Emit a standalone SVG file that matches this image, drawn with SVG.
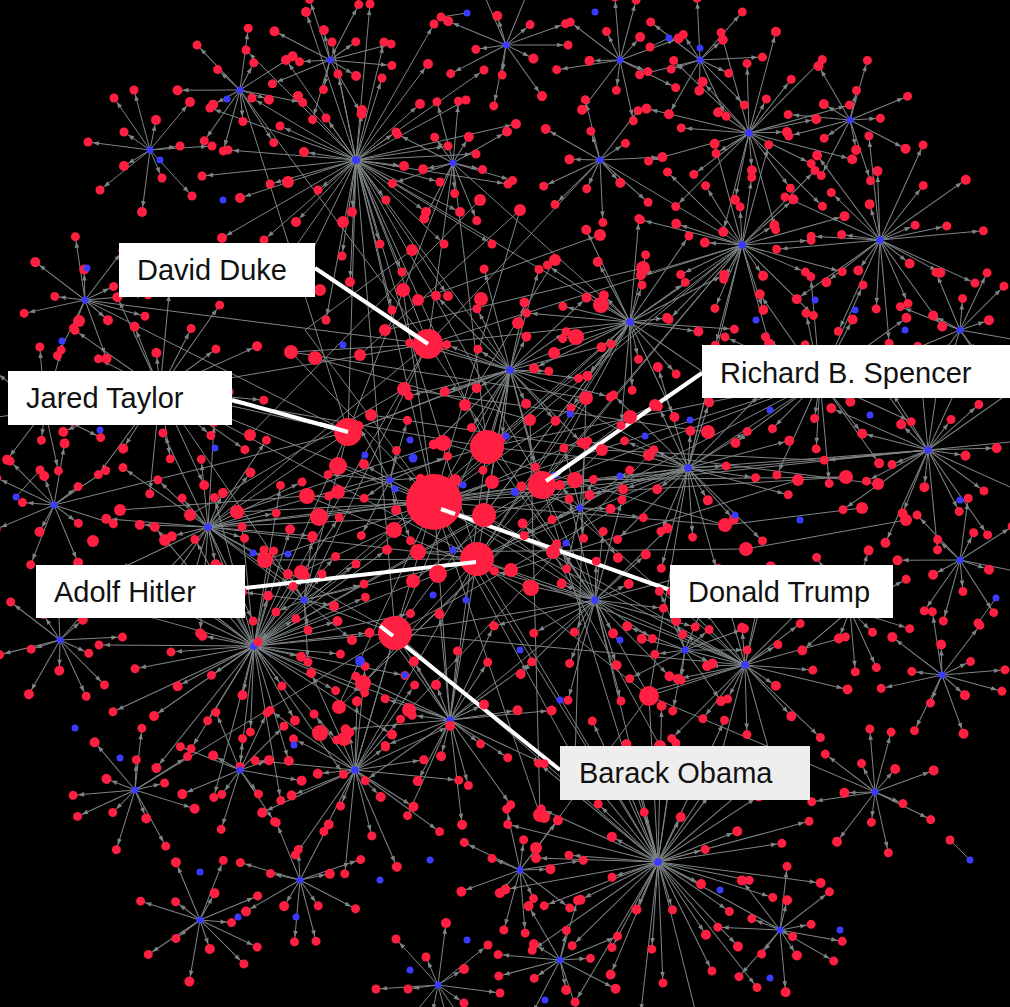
<svg xmlns="http://www.w3.org/2000/svg" width="1010" height="1007" viewBox="0 0 1010 1007">
<style>
.r{fill:#ff1f40}
.b{fill:#3b3bff}
.e{fill:none;stroke:#7f8485;stroke-width:1}
.e line{marker-end:url(#ah)}
.lead{stroke:#ffffff;stroke-width:4;fill:none}
.lbl{font-family:"Liberation Sans",Arial,sans-serif;font-size:29px;fill:#111}
</style>
<defs>
<!-- arrowhead stops short of a leaf of radius ~5 -->
<marker id="ah" markerUnits="userSpaceOnUse" markerWidth="20" markerHeight="20" orient="auto" overflow="visible">
<path d="M-11 -2.3L-5 0L-11 2.3z" fill="#7f8485"/>
</marker>
<!-- star cluster edges: hub at origin -->
<g id="SL" class="e">
<line x2="48" y2="6"/><line x2="30" y2="40"/><line x2="-4" y2="52"/><line x2="-38" y2="30"/><line x2="-52" y2="-8"/><line x2="-30" y2="-42"/><line x2="6" y2="-50"/><line x2="40" y2="-28"/>
<line x2="84" y2="22"/><line x2="70" y2="52"/><line x2="24" y2="84"/><line x2="-14" y2="96"/><line x2="-60" y2="62"/><line x2="-86" y2="24"/><line x2="-76" y2="-34"/><line x2="-58" y2="-64"/><line x2="-18" y2="-86"/><line x2="26" y2="-82"/><line x2="64" y2="-56"/><line x2="92" y2="-14"/>
<line x2="120" y2="-6"/><line x2="104" y2="52"/><line x2="88" y2="84"/><line x2="46" y2="112"/><line x2="-6" y2="122"/><line x2="-52" y2="108"/><line x2="-92" y2="80"/><line x2="-116" y2="38"/><line x2="-128" y2="-10"/><line x2="-104" y2="-62"/><line x2="-70" y2="-100"/><line x2="-24" y2="-118"/><line x2="28" y2="-118"/><line x2="72" y2="-96"/><line x2="110" y2="-60"/>
<line x2="152" y2="24"/><line x2="136" y2="84"/><line x2="92" y2="136"/><line x2="36" y2="150"/><line x2="-30" y2="160"/><line x2="-88" y2="126"/><line x2="-134" y2="78"/><line x2="-154" y2="16"/><line x2="-146" y2="-52"/><line x2="-110" y2="-110"/><line x2="-50" y2="-148"/><line x2="14" y2="-156"/><line x2="78" y2="-136"/><line x2="128" y2="-90"/><line x2="160" y2="-36"/>
</g>
<g id="ML" class="e">
<line x2="36" y2="10"/><line x2="8" y2="38"/><line x2="-30" y2="22"/><line x2="-26" y2="-28"/><line x2="12" y2="-36"/>
<line x2="66" y2="-20"/><line x2="58" y2="36"/><line x2="20" y2="66"/><line x2="-28" y2="62"/><line x2="-64" y2="26"/><line x2="-66" y2="-22"/><line x2="-36" y2="-58"/><line x2="10" y2="-68"/><line x2="50" y2="-48"/>
<line x2="100" y2="8"/><line x2="84" y2="58"/><line x2="44" y2="94"/><line x2="-8" y2="104"/><line x2="-58" y2="88"/><line x2="-94" y2="46"/><line x2="-104" y2="-8"/><line x2="-86" y2="-60"/><line x2="-44" y2="-94"/><line x2="8" y2="-104"/><line x2="60" y2="-88"/><line x2="94" y2="-44"/>
</g>
<g id="TL" class="e">
<line x2="30" y2="6"/><line x2="4" y2="30"/><line x2="-28" y2="12"/><line x2="-16" y2="-26"/><line x2="18" y2="-26"/><line x2="60" y2="-16"/><line x2="48" y2="40"/><line x2="4" y2="62"/><line x2="-46" y2="42"/><line x2="-62" y2="-8"/><line x2="-40" y2="-50"/><line x2="8" y2="-62"/><line x2="52" y2="-36"/>
</g>
<!-- star cluster nodes -->
<g id="SN"><g class="r">
<circle cx="48" cy="6" r="5"/><circle cx="30" cy="40" r="4.5"/><circle cx="-4" cy="52" r="5"/><circle cx="-38" cy="30" r="4.5"/><circle cx="-52" cy="-8" r="5"/><circle cx="-30" cy="-42" r="4.5"/><circle cx="6" cy="-50" r="5"/><circle cx="40" cy="-28" r="4.5"/>
<circle cx="84" cy="22" r="4.5"/><circle cx="70" cy="52" r="5"/><circle cx="24" cy="84" r="4.5"/><circle cx="-14" cy="96" r="4.5"/><circle cx="-60" cy="62" r="5"/><circle cx="-86" cy="24" r="4.5"/><circle cx="-76" cy="-34" r="4.5"/><circle cx="-58" cy="-64" r="5"/><circle cx="-18" cy="-86" r="4.5"/><circle cx="26" cy="-82" r="4.5"/><circle cx="64" cy="-56" r="5"/><circle cx="92" cy="-14" r="4.5"/>
<circle cx="120" cy="-6" r="4.5"/><circle cx="104" cy="52" r="5"/><circle cx="88" cy="84" r="4.5"/><circle cx="46" cy="112" r="4.5"/><circle cx="-6" cy="122" r="5"/><circle cx="-52" cy="108" r="4.5"/><circle cx="-92" cy="80" r="4.5"/><circle cx="-116" cy="38" r="5"/><circle cx="-128" cy="-10" r="4.5"/><circle cx="-104" cy="-62" r="4.5"/><circle cx="-70" cy="-100" r="5"/><circle cx="-24" cy="-118" r="4.5"/><circle cx="28" cy="-118" r="4.5"/><circle cx="72" cy="-96" r="5"/><circle cx="110" cy="-60" r="4.5"/>
<circle cx="152" cy="24" r="4.5"/><circle cx="136" cy="84" r="4.5"/><circle cx="92" cy="136" r="5"/><circle cx="36" cy="150" r="4.5"/><circle cx="-30" cy="160" r="4.5"/><circle cx="-88" cy="126" r="4.5"/><circle cx="-134" cy="78" r="5"/><circle cx="-154" cy="16" r="4.5"/><circle cx="-146" cy="-52" r="4.5"/><circle cx="-110" cy="-110" r="4.5"/><circle cx="-50" cy="-148" r="5"/><circle cx="14" cy="-156" r="4.5"/><circle cx="78" cy="-136" r="4.5"/><circle cx="128" cy="-90" r="4.5"/><circle cx="160" cy="-36" r="5"/>
</g><circle class="b" r="4"/></g>
<g id="MN"><g class="r">
<circle cx="36" cy="10" r="5"/><circle cx="8" cy="38" r="4.5"/><circle cx="-30" cy="22" r="5"/><circle cx="-26" cy="-28" r="4.5"/><circle cx="12" cy="-36" r="5"/>
<circle cx="66" cy="-20" r="4.5"/><circle cx="58" cy="36" r="5"/><circle cx="20" cy="66" r="4.5"/><circle cx="-28" cy="62" r="4.5"/><circle cx="-64" cy="26" r="5"/><circle cx="-66" cy="-22" r="4.5"/><circle cx="-36" cy="-58" r="4.5"/><circle cx="10" cy="-68" r="5"/><circle cx="50" cy="-48" r="4.5"/>
<circle cx="100" cy="8" r="4.5"/><circle cx="84" cy="58" r="5"/><circle cx="44" cy="94" r="4.5"/><circle cx="-8" cy="104" r="4.5"/><circle cx="-58" cy="88" r="5"/><circle cx="-94" cy="46" r="4.5"/><circle cx="-104" cy="-8" r="4.5"/><circle cx="-86" cy="-60" r="5"/><circle cx="-44" cy="-94" r="4.5"/><circle cx="8" cy="-104" r="4.5"/><circle cx="60" cy="-88" r="5"/><circle cx="94" cy="-44" r="4.5"/>
</g><circle class="b" r="3.8"/></g>
<g id="TN"><g class="r">
<circle cx="30" cy="6" r="5"/><circle cx="4" cy="30" r="4.5"/><circle cx="-28" cy="12" r="4.5"/><circle cx="-16" cy="-26" r="5"/><circle cx="18" cy="-26" r="4.5"/><circle cx="60" cy="-16" r="4.5"/><circle cx="48" cy="40" r="5"/><circle cx="4" cy="62" r="4.5"/><circle cx="-46" cy="42" r="4.5"/><circle cx="-62" cy="-8" r="5"/><circle cx="-40" cy="-50" r="4.5"/><circle cx="8" cy="-62" r="4.5"/><circle cx="52" cy="-36" r="4.5"/>
</g><circle class="b" r="3.5"/></g>
</defs>
<rect width="1010" height="1007" fill="#000"/>

<g id="connectors">
<use href="#SL" transform="translate(356 160)"/>
<use href="#SL" transform="translate(658 862) rotate(20)"/>
<use href="#SL" transform="translate(254 646) rotate(200) scale(-1 1)"/>
<use href="#ML" transform="translate(742 245) rotate(40)"/>
<use href="#ML" transform="translate(749 133) rotate(70)"/>
<use href="#ML" transform="translate(880 240) rotate(110)"/>
<use href="#TL" transform="translate(506 45) rotate(15)"/>
<use href="#ML" transform="translate(208 527) rotate(150)"/>
<use href="#ML" transform="translate(745 665) rotate(250)"/>
<use href="#TL" transform="translate(875 792) rotate(300)"/>
<use href="#TL" transform="translate(942 675) rotate(30)"/>
<use href="#ML" transform="translate(928 450) rotate(80)"/>
<use href="#ML" transform="translate(688 468) rotate(130)"/>
<use href="#ML" transform="translate(595 600) rotate(170) scale(-1 1)"/>
<use href="#ML" transform="translate(630 322) rotate(210)"/>
<use href="#ML" transform="translate(510 370) rotate(260) scale(-1 1)"/>
<use href="#TL" transform="translate(304 600)"/>
<use href="#ML" transform="translate(450 720) rotate(320)"/>
<use href="#ML" transform="translate(355 770) rotate(10) scale(-1 1)"/>
<use href="#TL" transform="translate(200 920) rotate(60)"/>
<use href="#TL" transform="translate(438 985) rotate(90)"/>
<use href="#TL" transform="translate(520 870) rotate(120)"/>
<use href="#TL" transform="translate(960 560) rotate(140)"/>
<use href="#TL" transform="translate(135 790) rotate(190)"/>
<use href="#TL" transform="translate(54 505) rotate(240)"/>
<use href="#TL" transform="translate(85 300) rotate(30)"/>
<use href="#ML" transform="translate(160 390) rotate(100) scale(-1 1)"/>
<use href="#TL" transform="translate(240 90) rotate(140)"/>
<use href="#TL" transform="translate(620 60) rotate(300)"/>
<use href="#TL" transform="translate(850 120) rotate(200)"/>
<use href="#TL" transform="translate(960 330) rotate(330)"/>
<use href="#ML" transform="translate(820 380) rotate(20)"/>
<use href="#TL" transform="translate(60 640) rotate(80)"/>
<use href="#TL" transform="translate(150 150) rotate(270)"/>
<use href="#TL" transform="translate(780 930) rotate(45)"/>
<use href="#TL" transform="translate(300 880) rotate(110)"/>
<use href="#TL" transform="translate(600 160) rotate(170)"/>
<use href="#TL" transform="translate(453 163) rotate(290)"/>
<use href="#TL" transform="translate(560 960) rotate(200)"/>
<use href="#TL" transform="translate(850 610) rotate(100)"/>
<use href="#TL" transform="translate(580 508) rotate(60) scale(-1 1)"/>
<use href="#TL" transform="translate(390 480) rotate(200)"/>
<use href="#TL" transform="translate(685 650) rotate(15)"/>
<use href="#TL" transform="translate(45 410) rotate(300)"/>
<use href="#TL" transform="translate(700 60) rotate(80)"/>
<use href="#TL" transform="translate(330 60) rotate(20)"/>
<use href="#TL" transform="translate(240 770) rotate(330)"/>
<!-- long links through the core -->
<path class="e" d="M434 502L356 160M434 502L510 370M434 502L630 322M434 502L688 468M434 502L595 600M434 502L208 527M434 502L254 646M434 502L450 720M434 502L355 770M434 502L742 245M434 502L745 665M434 502L403 290M434 502L291 352M434 502L586 398M434 502L725 525M434 502L553 552M434 502L307 496M434 502L237 512M434 502L338 707M434 502L575 760M434 502L820 380M434 502L305 330M434 502L520 210M434 502L658 862M434 502L160 390M434 502L928 450M434 502L540 815M434 502L846 477
M477 559L356 160M477 559L510 370M477 559L630 322M477 559L254 646M477 559L208 527M477 559L595 600M477 559L688 468M477 559L745 665M477 559L450 720M477 559L355 770M477 559L304 600M477 559L363 683M477 559L265 560M477 559L649 696M477 559L586 398M477 559L742 245M477 559L658 862M477 559L820 380M477 559L160 390
M395 633L254 646M395 633L208 527M395 633L355 770M395 633L450 720M395 633L510 370M395 633L595 600M395 633L688 468M395 633L630 322M395 633L356 160M395 633L304 600M395 633L658 862M395 633L745 665M395 633L135 790
M428 344L356 160M428 344L510 370M428 344L630 322M428 344L453 163M428 344L208 527M428 344L160 390M428 344L742 245M428 344L304 600M428 344L254 646M428 344L291 352M428 344L600 160M428 344L240 90M428 344L85 300M428 344L595 600
M348 432L356 160M348 432L208 527M348 432L160 390M348 432L254 646M348 432L510 370M348 432L630 322M348 432L304 600M348 432L453 163M348 432L240 90M348 432L85 300M348 432L54 505
M542 485L630 322M542 485L688 468M542 485L510 370M542 485L742 245M542 485L820 380M542 485L595 600M542 485L745 665M542 485L928 450M542 485L254 646M542 485L208 527M542 485L356 160M542 485L658 862
M487 447L356 160M487 447L630 322M487 447L688 468M487 447L510 370M487 447L742 245M487 447L208 527M487 447L254 646M487 447L595 600M487 447L450 720M487 447L820 380M487 447L160 390M487 447L453 163
M484 515L688 468M484 515L595 600M484 515L630 322M484 515L254 646M484 515L208 527M484 515L510 370M484 515L745 665
M649 696L745 665M649 696L595 600M649 696L658 862M649 696L688 468M649 696L875 792M649 696L520 870
M291 352L586 398M315 358L530 420M371 415L602 450M404 389L708 432M443 443L725 525M338 466L553 552M307 496L531 588M319 517L575 480M265 560L492 482M301 572L655 405M418 552L746 549M413 581L630 417M511 570L798 480M363 683L575 480M339 707L602 450M409 710L649 455M540 815L530 420M575 760L586 398M660 746L553 552M237 512L443 443M190 515L404 389M120 510L307 496M555 260L465 405M600 235L418 300M643 268L385 330M520 210L360 355M480 200L250 435M412 250L305 330M815 460L602 450M862 508L725 525M906 520L746 549M878 484L649 455M846 477L575 480
M356 160L510 370M356 160L630 322M742 245L630 322M742 245L688 468M820 380L688 468M928 450L688 468M745 665L595 600M658 862L595 600M450 720L595 600M254 646L450 720M208 527L304 600M160 390L304 600M510 370L688 468M630 322L453 163M742 245L600 160
M441 17L467 13M650 47L669 38M996 598L978 623M16 497L40 470M970 860L950 840"/>
<!-- leader lines -->
<path class="lead" d="M315 268L428 344M232 400L348 432M702 373L546 481M245 588L476 562M670 590L441 509M560 770L393 636"/>
</g>

<g id="nodes">
<use href="#SN" transform="translate(356 160)"/>
<use href="#SN" transform="translate(658 862) rotate(20)"/>
<use href="#SN" transform="translate(254 646) rotate(200) scale(-1 1)"/>
<use href="#MN" transform="translate(742 245) rotate(40)"/>
<use href="#MN" transform="translate(749 133) rotate(70)"/>
<use href="#MN" transform="translate(880 240) rotate(110)"/>
<use href="#TN" transform="translate(506 45) rotate(15)"/>
<use href="#MN" transform="translate(208 527) rotate(150)"/>
<use href="#MN" transform="translate(745 665) rotate(250)"/>
<use href="#TN" transform="translate(875 792) rotate(300)"/>
<use href="#TN" transform="translate(942 675) rotate(30)"/>
<use href="#MN" transform="translate(928 450) rotate(80)"/>
<use href="#MN" transform="translate(688 468) rotate(130)"/>
<use href="#MN" transform="translate(595 600) rotate(170) scale(-1 1)"/>
<use href="#MN" transform="translate(630 322) rotate(210)"/>
<use href="#MN" transform="translate(510 370) rotate(260) scale(-1 1)"/>
<use href="#TN" transform="translate(304 600)"/>
<use href="#MN" transform="translate(450 720) rotate(320)"/>
<use href="#MN" transform="translate(355 770) rotate(10) scale(-1 1)"/>
<use href="#TN" transform="translate(200 920) rotate(60)"/>
<use href="#TN" transform="translate(438 985) rotate(90)"/>
<use href="#TN" transform="translate(520 870) rotate(120)"/>
<use href="#TN" transform="translate(960 560) rotate(140)"/>
<use href="#TN" transform="translate(135 790) rotate(190)"/>
<use href="#TN" transform="translate(54 505) rotate(240)"/>
<use href="#TN" transform="translate(85 300) rotate(30)"/>
<use href="#MN" transform="translate(160 390) rotate(100) scale(-1 1)"/>
<use href="#TN" transform="translate(240 90) rotate(140)"/>
<use href="#TN" transform="translate(620 60) rotate(300)"/>
<use href="#TN" transform="translate(850 120) rotate(200)"/>
<use href="#TN" transform="translate(960 330) rotate(330)"/>
<use href="#MN" transform="translate(820 380) rotate(20)"/>
<use href="#TN" transform="translate(60 640) rotate(80)"/>
<use href="#TN" transform="translate(150 150) rotate(270)"/>
<use href="#TN" transform="translate(780 930) rotate(45)"/>
<use href="#TN" transform="translate(300 880) rotate(110)"/>
<use href="#TN" transform="translate(600 160) rotate(170)"/>
<use href="#TN" transform="translate(453 163) rotate(290)"/>
<use href="#TN" transform="translate(560 960) rotate(200)"/>
<use href="#TN" transform="translate(850 610) rotate(100)"/>
<use href="#TN" transform="translate(580 508) rotate(60) scale(-1 1)"/>
<use href="#TN" transform="translate(390 480) rotate(200)"/>
<use href="#TN" transform="translate(685 650) rotate(15)"/>
<use href="#TN" transform="translate(45 410) rotate(300)"/>
<use href="#TN" transform="translate(700 60) rotate(80)"/>
<use href="#TN" transform="translate(330 60) rotate(20)"/>
<use href="#TN" transform="translate(240 770) rotate(330)"/>

<!-- scattered linking nodes -->
<g class="b">
<circle cx="343" cy="345" r="3.5"/><circle cx="365" cy="455" r="3.5"/><circle cx="413" cy="458" r="4.5"/><circle cx="463" cy="485" r="3.5"/><circle cx="515" cy="492" r="4"/><circle cx="453" cy="550" r="3.5"/><circle cx="433" cy="595" r="3.5"/><circle cx="466" cy="600" r="3.5"/><circle cx="360" cy="661" r="5"/><circle cx="294" cy="745" r="3.5"/><circle cx="405" cy="675" r="3.5"/><circle cx="566" cy="543" r="3.5"/><circle cx="620" cy="476" r="3.5"/><circle cx="645" cy="436" r="3.5"/><circle cx="570" cy="414" r="3.5"/><circle cx="506" cy="436" r="3.5"/><circle cx="482" cy="568" r="3.5"/><circle cx="395" cy="489" r="3.5"/><circle cx="410" cy="440" r="3.5"/><circle cx="215" cy="448" r="3.5"/><circle cx="253" cy="553" r="3.5"/><circle cx="288" cy="554" r="3.5"/><circle cx="223" cy="200" r="3.5"/><circle cx="160" cy="160" r="3.5"/><circle cx="62" cy="341" r="3.5"/><circle cx="87" cy="268" r="3.5"/><circle cx="227" cy="99" r="3.5"/><circle cx="467" cy="13" r="3.5"/><circle cx="669" cy="38" r="3.5"/><circle cx="700" cy="48" r="3.5"/><circle cx="595" cy="12" r="3.5"/><circle cx="756" cy="320" r="3.5"/><circle cx="815" cy="300" r="3.5"/><circle cx="870" cy="415" r="3.5"/><circle cx="960" cy="500" r="3.5"/><circle cx="996" cy="598" r="3.5"/><circle cx="120" cy="758" r="3.5"/><circle cx="75" cy="728" r="3.5"/><circle cx="200" cy="872" r="3.5"/><circle cx="238" cy="917" r="3.5"/><circle cx="296" cy="917" r="3.5"/><circle cx="467" cy="940" r="3.5"/><circle cx="410" cy="970" r="3.5"/><circle cx="720" cy="890" r="3.5"/><circle cx="840" cy="930" r="3.5"/><circle cx="770" cy="978" r="3.5"/><circle cx="545" cy="1000" r="3.5"/><circle cx="100" cy="430" r="3.5"/><circle cx="16" cy="497" r="3.5"/><circle cx="42" cy="612" r="3.5"/><circle cx="855" cy="310" r="3.5"/><circle cx="905" cy="330" r="3.5"/><circle cx="935" cy="380" r="3.5"/><circle cx="770" cy="410" r="3.5"/><circle cx="690" cy="420" r="3.5"/><circle cx="555" cy="475" r="3.5"/><circle cx="735" cy="515" r="3.5"/><circle cx="800" cy="520" r="3.5"/><circle cx="620" cy="640" r="3.5"/><circle cx="520" cy="650" r="3.5"/><circle cx="560" cy="700" r="3.5"/><circle cx="430" cy="860" r="3.5"/><circle cx="380" cy="880" r="3.5"/><circle cx="970" cy="860" r="3.5"/>
</g>
<!-- mid-sized accounts in the core -->
<g class="r">
<circle cx="601" cy="305" r="8"/><circle cx="576" cy="337" r="8"/><circle cx="443" cy="443" r="8"/><circle cx="315" cy="358" r="7"/><circle cx="291" cy="352" r="7"/><circle cx="404" cy="389" r="7"/><circle cx="338" cy="466" r="9"/><circle cx="307" cy="496" r="8"/><circle cx="319" cy="517" r="9"/><circle cx="338" cy="492" r="7"/><circle cx="237" cy="512" r="7"/><circle cx="265" cy="560" r="8"/><circle cx="301" cy="572" r="7"/><circle cx="394" cy="530" r="8"/><circle cx="418" cy="552" r="8"/><circle cx="438" cy="574" r="9"/><circle cx="413" cy="581" r="7"/><circle cx="492" cy="482" r="7"/><circle cx="531" cy="588" r="8"/><circle cx="511" cy="570" r="7"/><circle cx="553" cy="552" r="7"/><circle cx="575" cy="480" r="8"/><circle cx="586" cy="398" r="7"/><circle cx="630" cy="417" r="7"/><circle cx="655" cy="405" r="6"/><circle cx="649" cy="455" r="6"/><circle cx="708" cy="432" r="7"/><circle cx="725" cy="525" r="7"/><circle cx="746" cy="549" r="7"/><circle cx="798" cy="480" r="6"/><circle cx="846" cy="477" r="7"/><circle cx="862" cy="508" r="6"/><circle cx="878" cy="484" r="6"/><circle cx="906" cy="520" r="6"/><circle cx="363" cy="683" r="8"/><circle cx="339" cy="707" r="7"/><circle cx="320" cy="733" r="8"/><circle cx="344" cy="739" r="7"/><circle cx="409" cy="710" r="7"/><circle cx="540" cy="815" r="7"/><circle cx="536" cy="848" r="6"/><circle cx="575" cy="760" r="6"/><circle cx="660" cy="746" r="6"/><circle cx="403" cy="290" r="7"/><circle cx="481" cy="299" r="7"/><circle cx="518" cy="323" r="6"/><circle cx="554" cy="353" r="6"/><circle cx="371" cy="415" r="6"/><circle cx="360" cy="355" r="6"/><circle cx="385" cy="330" r="6"/><circle cx="418" cy="300" r="6"/><circle cx="465" cy="405" r="6"/><circle cx="530" cy="420" r="6"/><circle cx="602" cy="450" r="6"/><circle cx="455" cy="480" r="6"/><circle cx="250" cy="435" r="6"/><circle cx="190" cy="515" r="6"/><circle cx="165" cy="540" r="6"/><circle cx="120" cy="510" r="6"/><circle cx="555" cy="260" r="6"/><circle cx="600" cy="235" r="6"/><circle cx="643" cy="268" r="7"/><circle cx="520" cy="210" r="6"/><circle cx="480" cy="200" r="6"/><circle cx="412" cy="250" r="6"/><circle cx="79" cy="321" r="6"/><circle cx="93" cy="541" r="6"/><circle cx="320" cy="290" r="6"/><circle cx="343" cy="222" r="6"/><circle cx="288" cy="182" r="6"/><circle cx="441" cy="17" r="4.5"/><circle cx="650" cy="47" r="4.5"/><circle cx="978" cy="623" r="4.5"/><circle cx="40" cy="470" r="4.5"/><circle cx="950" cy="840" r="4.5"/><circle cx="544" cy="817" r="6"/>
</g>
<g id="node-big1" class="r"><circle cx="487" cy="447" r="17"/></g>
<g id="node-big2" class="r"><circle cx="484" cy="515" r="12"/></g>
<g id="node-big3" class="r"><circle cx="649" cy="696" r="10"/></g>
<g id="node-duke" class="r"><circle cx="428" cy="344" r="15"/></g>
<g id="node-taylor" class="r"><circle cx="348" cy="432" r="14"/></g>
<g id="node-spencer" class="r"><circle cx="542" cy="485" r="14"/></g>
<g id="node-hitler" class="r"><circle cx="477" cy="559" r="17"/></g>
<g id="node-obama" class="r"><circle cx="395" cy="633" r="17"/></g>
<g id="node-trump" class="r"><circle cx="434" cy="502" r="28"/></g>
<!-- leader ends over the labelled nodes -->
<path class="lead" d="M400 325L428 344M320 424L348 432M560 472L546 481M450 565L476 562M455 514L441 509M380 626L393 636"/>
</g>

<g id="labels">
<g id="label-duke"><rect x="119" y="243" width="196" height="54" fill="#fff"/><text class="lbl" x="137" y="280">David Duke</text></g>
<g id="label-taylor"><rect x="8" y="371" width="224" height="54" fill="#fff"/><text class="lbl" x="26" y="408">Jared Taylor</text></g>
<g id="label-spencer"><rect x="702" y="345" width="308" height="53" fill="#fff"/><text class="lbl" x="720" y="383">Richard B. Spencer</text></g>
<g id="label-hitler"><rect x="36" y="565" width="209" height="53" fill="#fff"/><text class="lbl" x="54" y="602">Adolf Hitler</text></g>
<g id="label-trump"><rect x="670" y="565" width="223" height="53" fill="#fff"/><text class="lbl" x="688" y="602">Donald Trump</text></g>
<g id="label-obama"><rect x="560" y="746" width="250" height="54" fill="#eeeeee"/><text class="lbl" x="579" y="783">Barack Obama</text></g>
</g>
</svg>
